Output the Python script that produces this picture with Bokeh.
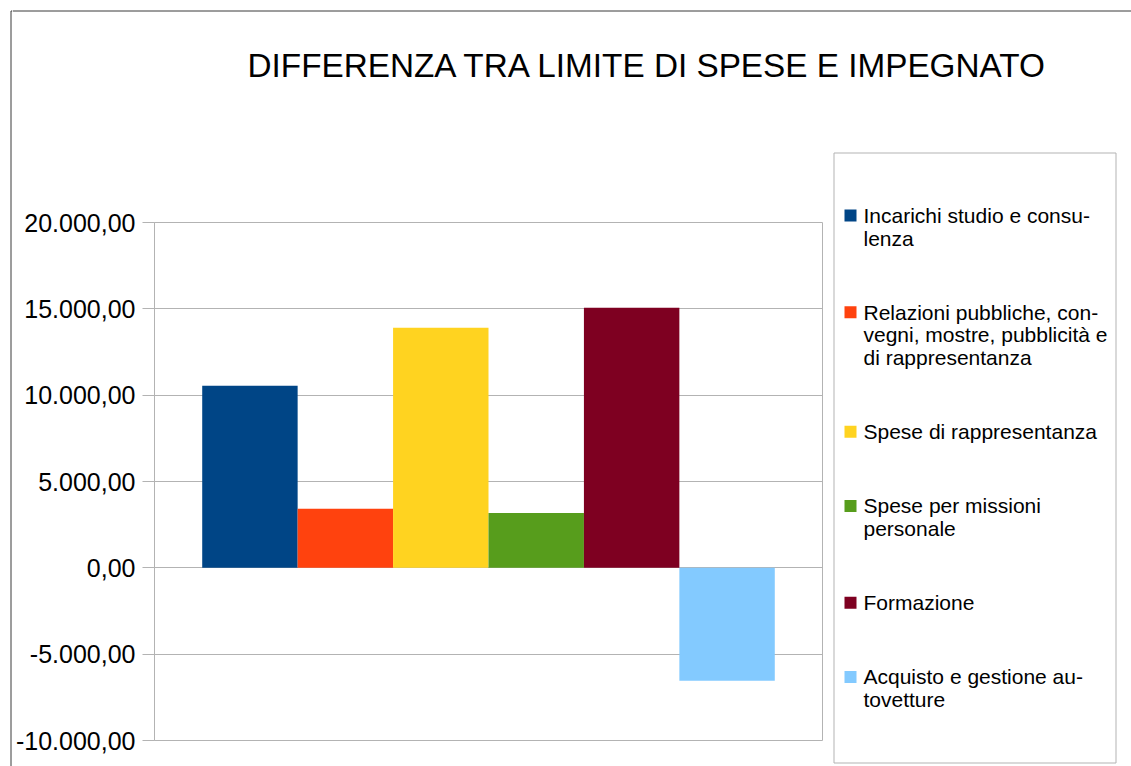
from bokeh.plotting import figure
from bokeh.models import Range1d, FixedTicker, Label, BoxAnnotation, Span
from bokeh.layouts import column, row
from bokeh.embed import file_html
from bokeh.resources import INLINE

# ---- data ----
title_text = "DIFFERENZA TRA LIMITE DI SPESE E IMPEGNATO"
series_names = [
    "Incarichi studio e consulenza",
    "Relazioni pubbliche, convegni, mostre, pubblicità e di rappresentanza",
    "Spese di rappresentanza",
    "Spese per missioni personale",
    "Formazione",
    "Acquisto e gestione autovetture",
]
legend_lines = [
    ["Incarichi studio e consu-", "lenza"],
    ["Relazioni pubbliche, con-", "vegni, mostre, pubblicità e", "di rappresentanza"],
    ["Spese di rappresentanza"],
    ["Spese per missioni", "personale"],
    ["Formazione"],
    ["Acquisto e gestione au-", "tovetture"],
]
values = [10540, 3420, 13900, 3170, 15060, -6545]
colors = ["#004586", "#ff420e", "#ffd320", "#579d1c", "#7e0021", "#83caff"]
y_ticks = [-10000, -5000, 0, 5000, 10000, 15000, 20000]


def it_fmt(v):
    s = f"{abs(v):,.2f}"
    s = s.replace(",", "X").replace(".", ",").replace("X", ".")
    return ("-" if v < 0 else "") + s


FONT = "Liberation Sans"
GRID = "#b3b3b3"
BORDER = "#3a3a3a"

TOTAL_W, TOTAL_H = 1131, 766
TITLE_H = 140
ROW_H = TOTAL_H - TITLE_H
STRIP_W = 12
LEG_W = 301
RIGHT_W = TOTAL_W - STRIP_W
MAIN_W = RIGHT_W - LEG_W


def blank_fig(w, h):
    f = figure(width=w, height=h, output_backend="svg", toolbar_location=None,
               x_range=Range1d(0, w), y_range=Range1d(h, 0), frame_align=False,
               min_border=0, min_border_left=0, min_border_right=0,
               min_border_top=0, min_border_bottom=0)
    f.axis.visible = False
    f.grid.visible = False
    f.outline_line_color = None
    f.background_fill_color = "white"
    f.border_fill_color = "white"
    return f


# ---- left border strip (full height) ----
ps = blank_fig(STRIP_W, TOTAL_H)
ps.add_layout(BoxAnnotation(left=10.5, right=5000, top=10.5, bottom=5000,
                            fill_alpha=0, line_color=BORDER, line_alpha=1, line_width=1))

# ---- title strip ----
pt = blank_fig(RIGHT_W, TITLE_H)
pt.add_layout(Span(location=10.5, dimension="width", line_color=BORDER, line_width=1))
pt.add_layout(Label(x=247 - STRIP_W, y=64.5, text=title_text, text_font=FONT,
                    text_font_size="33.3px", text_color="black",
                    text_baseline="alphabetic", text_align="left"))

# ---- main chart ----
ML = 154 - STRIP_W
MT = 222 - TITLE_H
FW, FH = 668, 518
p = figure(width=MAIN_W, height=ROW_H, output_backend="svg", toolbar_location=None,
           x_range=Range1d(0, len(values) + 1), y_range=Range1d(y_ticks[0], y_ticks[-1]),
           frame_align=False,
           min_border_left=ML, min_border_top=MT,
           min_border_right=MAIN_W - ML - FW, min_border_bottom=ROW_H - MT - FH)
p.background_fill_color = "white"
p.border_fill_color = "white"
p.outline_line_color = GRID
p.outline_line_width = 1
p.xaxis.visible = False
p.xgrid.visible = False
p.ygrid.grid_line_color = GRID
p.ygrid.ticker = FixedTicker(ticks=y_ticks)

ax = p.yaxis[0]
ax.ticker = FixedTicker(ticks=y_ticks)
ax.major_label_overrides = {t: it_fmt(t) for t in y_ticks}
ax.major_label_text_font = FONT
ax.major_label_text_font_size = "25px"
ax.major_label_text_color = "black"
ax.axis_line_color = GRID
ax.major_tick_line_color = GRID
ax.major_tick_out = 12
ax.major_tick_in = 0
ax.minor_tick_line_color = None
ax.major_label_standoff = 7

xs = list(range(1, len(values) + 1))
p.vbar(x=xs, top=values, bottom=0, width=1.0, fill_color=colors, line_color=None)

# ---- legend ----
pl = blank_fig(LEG_W, ROW_H)
LX0 = STRIP_W + MAIN_W + 1  # page x of legend figure (observed offset)
pl.add_layout(BoxAnnotation(left=834.5 - LX0, right=1116.5 - LX0,
                            top=152.5 - TITLE_H, bottom=762.5 - TITLE_H,
                            fill_alpha=0, line_color=GRID, line_alpha=1, line_width=1))
LINE_H = 22.6
GAP = 51.6
y_cur = 215.0 - TITLE_H
sq_x, sq_y = [], []
for lines in legend_lines:
    sq_x.append(851 - LX0)
    sq_y.append(y_cur)
    for i, ln in enumerate(lines):
        pl.add_layout(Label(x=864 - LX0, y=y_cur + i * LINE_H, text=ln, text_font=FONT,
                            text_font_size="21px", text_color="black",
                            text_baseline="middle", text_align="left"))
    y_cur += len(lines) * LINE_H + GAP
pl.rect(x=sq_x, y=sq_y, width=12, height=12, fill_color=colors, line_color=None)

layout = row(ps, column(pt, row(p, pl)))
open("out.html", "w").write(file_html(layout, INLINE))
